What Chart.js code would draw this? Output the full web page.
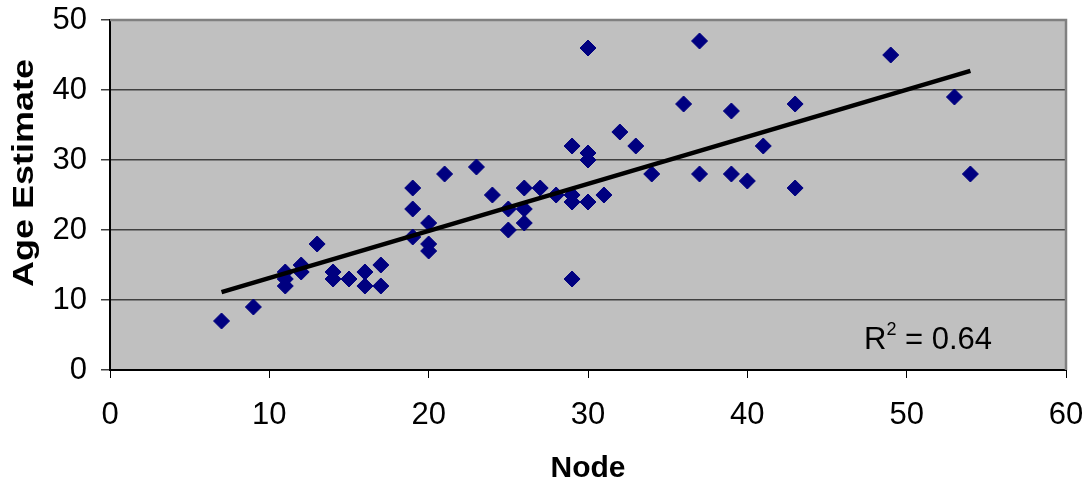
<!DOCTYPE html>
<html>
<head>
<meta charset="utf-8">
<script src="https://cdn.jsdelivr.net/npm/chart.js@4/dist/chart.umd.min.js"></script>
<style>
  html, body { margin: 0; padding: 0; background: #ffffff; }
  #wrap { width: 1088px; height: 492px; }
</style>
</head>
<body>
<div id="wrap"><canvas id="c" width="1088" height="492"></canvas></div>
<script>
const nodes = [7,9,11,11,11,12,12,13,14,14,15,16,16,17,17,19,19,19,20,20,20,21,23,24,25,25,26,26,26,27,28,29,29,29,29,30,30,30,30,31,32,33,34,36,37,37,39,39,40,41,43,43,49,53,54];
const ages  = [7,9,14,13,12,15,14,18,14,13,13,14,12,15,12,26,23,19,21,18,17,28,29,25,23,20,26,23,21,26,25,25,24,32,13,46,31,30,24,25,34,32,28,38,47,28,37,28,27,32,38,26,45,39,28];
const xTicks = [0,10,20,30,40,50,60];
const yTicks = [0,10,20,30,40,50];
const xTitle = 'Node';
const yTitle = 'Age Estimate';
const r2Label = '0.64';

// least-squares trend line over the data range
const n = nodes.length;
const mx = nodes.reduce((a,b)=>a+b,0)/n;
const my = ages.reduce((a,b)=>a+b,0)/n;
let sxy = 0, sxx = 0;
for (let i = 0; i < n; i++) { sxy += (nodes[i]-mx)*(ages[i]-my); sxx += (nodes[i]-mx)**2; }
const slope = sxy/sxx, intercept = my - slope*mx;
const xMin = Math.min(...nodes), xMax = Math.max(...nodes);
const trend = [{x:xMin, y:intercept+slope*xMin},{x:xMax, y:intercept+slope*xMax}];

const FONT = '"Liberation Sans", Arial, sans-serif';

const plotDeco = {
  id: 'plotDeco',
  beforeDraw(chart) {
    const {ctx, chartArea:a} = chart;
    ctx.save();
    ctx.fillStyle = '#C0C0C0';
    ctx.fillRect(a.left, a.top, a.right-a.left, a.bottom-a.top);
    ctx.restore();
  },
  afterDatasetsDraw(chart) {
    const {ctx, chartArea:a} = chart;
    ctx.save();
    ctx.strokeStyle = '#808080';
    ctx.lineWidth = 2.5;
    ctx.beginPath();
    ctx.moveTo(a.left, a.top); ctx.lineTo(a.right, a.top); ctx.lineTo(a.right, a.bottom);
    ctx.stroke();
    // R² label
    ctx.fillStyle = '#000';
    ctx.textBaseline = 'alphabetic';
    ctx.textAlign = 'left';
    let x = a.left + 754, y = a.top + 329;
    ctx.font = '31px ' + FONT;
    ctx.fillText('R', x, y);
    x += ctx.measureText('R').width;
    ctx.font = '18px ' + FONT;
    ctx.fillText('2', x, y - 14);
    x += ctx.measureText('2').width;
    ctx.font = '31px ' + FONT;
    ctx.fillText(' = ' + r2Label, x, y);
    ctx.restore();
  },
  afterDraw(chart) {
    // vertical axis title (slightly elongated, placed as in the reference)
    const {ctx, chartArea:a} = chart;
    ctx.save();
    ctx.translate(a.left - 77, a.top + 153);
    ctx.rotate(-Math.PI/2);
    ctx.scale(1.2, 1);
    ctx.fillStyle = '#000';
    ctx.font = 'bold 30px ' + FONT;
    ctx.textAlign = 'center';
    ctx.textBaseline = 'alphabetic';
    ctx.fillText(yTitle, 0, 0);
    ctx.restore();
  }
};

new Chart(document.getElementById('c'), {
  type: 'scatter',
  data: {
    datasets: [
      {
        type: 'line',
        data: trend,
        borderColor: '#000000',
        borderWidth: 4.5,
        pointRadius: 0,
        fill: false,
        order: 1
      },
      {
        data: nodes.map((x,i)=>({x, y: ages[i]})),
        pointStyle: 'rectRot',
        pointRadius: 8,
        pointHoverRadius: 8,
        backgroundColor: '#000080',
        borderColor: '#000080',
        borderWidth: 1,
        order: 2
      }
    ]
  },
  options: {
    responsive: false,
    animation: false,
    events: [],
    layout: { padding: { left: 0, right: 22, top: 20, bottom: 0 } },
    plugins: { legend: { display: false }, tooltip: { enabled: false } },
    scales: {
      x: {
        type: 'linear', min: 0, max: 60,
        afterBuildTicks(s) { s.ticks = xTicks.map(v=>({value:v})); },
        afterFit(s) { s.height = 122; s.paddingLeft = 0; s.paddingRight = 0; },
        grid: { display: true, drawOnChartArea: false, color: '#000', tickLength: 8, lineWidth: 1 },
        border: { display: true, color: '#000', width: 2 },
        ticks: { color: '#000', font: { family: FONT, size: 31 }, padding: 19, maxRotation: 0 },
        title: { display: true, text: xTitle, color: '#000', font: { family: FONT, size: 30, weight: 'bold' }, padding: { top: 0, bottom: 5 } }
      },
      y: {
        type: 'linear', min: 0, max: 50,
        afterBuildTicks(s) { s.ticks = yTicks.map(v=>({value:v})); },
        afterFit(s) { s.width = 110; s.paddingTop = 0; s.paddingBottom = 0; },
        grid: { display: true, drawOnChartArea: true, color: '#404040', tickLength: 9, lineWidth: 1.5 },
        border: { display: true, color: '#000', width: 2 },
        ticks: { color: '#000', font: { family: FONT, size: 31 }, padding: 14 },
        title: { display: false, text: yTitle }
      }
    }
  },
  plugins: [plotDeco]
});
</script>
</body>
</html>
